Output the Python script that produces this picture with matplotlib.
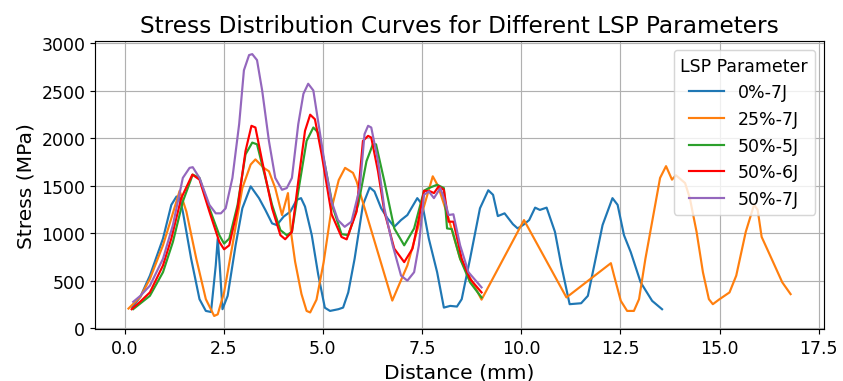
import matplotlib.pyplot as plt

# distancias (mm) e tensoes (MPa)
x_0_7 = [0.2, 0.4, 0.64, 0.97, 1.18, 1.31, 1.39, 1.47, 1.68, 1.89, 2.05, 2.18, 2.30, 2.35, 2.40, 2.47,
         2.60, 2.80, 2.97, 3.18, 3.39, 3.55, 3.72, 3.84, 4.01, 4.18, 4.34, 4.45, 4.55, 4.72, 4.88, 5.05,
         5.18, 5.39, 5.51, 5.64, 5.80, 6.01, 6.18, 6.30, 6.47, 6.63, 6.80, 6.97, 7.13, 7.38, 7.51, 7.67,
         7.88, 8.05, 8.21, 8.38, 8.50, 8.71, 8.96, 9.17, 9.29, 9.41, 9.58, 9.79, 9.91, 10.06, 10.20, 10.35,
         10.47, 10.64, 10.85, 11.01, 11.22, 11.51, 11.68, 11.84, 12.05, 12.30, 12.43, 12.59, 12.76, 13.01,
         13.30, 13.55]
y_0_7 = [220, 330, 553, 943, 1298, 1386, 1376, 1227, 730, 305, 181, 170, 660, 943, 660, 199,
         340, 872, 1262, 1493, 1369, 1245, 1103, 1085, 1174, 1227, 1351, 1369, 1280, 980, 570, 215,
         181, 199, 216, 376, 730, 1298, 1482, 1440, 1262, 1156, 1067, 1138, 1191, 1369, 1298, 943,
         589, 216, 234, 227, 305, 730, 1262, 1452, 1404, 1180, 1209, 1095, 1050, 1090, 1138, 1269,
         1245, 1269, 1014, 660, 252, 262, 340, 660, 1085, 1369, 1298, 979, 801, 482,
         287, 199]

x_25_7 = [0.10, 0.4, 0.64, 0.97, 1.18, 1.39, 1.56, 1.81, 2.05, 2.26, 2.35, 2.51, 2.72, 2.97, 3.18, 3.30,
          3.51, 3.64, 3.80, 3.97, 4.12, 4.20, 4.30, 4.46, 4.59, 4.68, 4.84, 5.02, 5.22, 5.40, 5.56, 5.76,
          5.85, 6.75, 7.13, 7.51, 7.77, 7.90, 8.15, 8.46, 9.0, 10.07, 11.14, 12.26, 12.34, 12.51, 12.67,
          12.84, 12.97, 13.13, 13.30, 13.50, 13.65, 13.80, 13.90, 14.13, 14.25, 14.42, 14.58, 14.73, 14.83,
          15.0, 15.25, 15.42, 15.66, 15.87, 15.96, 16.06, 16.33, 16.58, 16.79]
y_25_7 = [206, 330, 518, 872, 1156, 1447, 1227, 730, 305, 128, 145, 376, 872, 1475, 1723, 1777,
          1688, 1652, 1475, 1191, 1422, 1000, 700, 360, 181, 165, 300, 695, 1262, 1560, 1688, 1635,
          1546, 290, 660, 1227, 1599, 1500, 1180, 730, 300, 1138, 323, 684, 553, 287, 181,
          181, 305, 730, 1121, 1582, 1706, 1564, 1610, 1528, 1369, 1014, 589, 305, 252,
          305, 376, 553, 1014, 1300, 1245, 961, 713, 482, 358]

x_50_5 = [0.22, 0.4, 0.64, 0.97, 1.22, 1.47, 1.72, 1.89, 2.14, 2.39, 2.51, 2.64, 2.85, 3.05, 3.22, 3.34,
          3.51, 3.72, 3.93, 4.09, 4.22, 4.38, 4.59, 4.76, 4.88, 5.05, 5.26, 5.47, 5.64, 5.89, 6.10, 6.26,
          6.34, 6.55, 6.80, 7.05, 7.30, 7.55, 7.67, 7.88, 8.05, 8.13, 8.25, 8.46, 8.71, 9.0]
y_50_5 = [200, 260, 340, 589, 908, 1333, 1617, 1582, 1262, 979, 890, 943, 1298, 1830, 1954, 1936,
          1652, 1298, 1032, 979, 1014, 1440, 1972, 2113, 2060, 1723, 1262, 990, 979, 1298, 1759, 1936,
          1936, 1546, 1050, 872, 1050, 1447, 1475, 1510, 1475, 1050, 1043, 730, 482, 323]

x_50_6 = [0.18, 0.4, 0.64, 0.97, 1.18, 1.43, 1.71, 1.89, 2.14, 2.39, 2.51, 2.64, 2.85, 3.05, 3.20, 3.30,
          3.47, 3.72, 3.93, 4.05, 4.22, 4.38, 4.55, 4.68, 4.80, 4.97, 5.22, 5.47, 5.60, 5.85, 6.01, 6.14,
          6.22, 6.39, 6.55, 6.80, 7.05, 7.26, 7.42, 7.55, 7.71, 7.80, 7.92, 8.05, 8.17, 8.29, 8.50, 8.71, 9.0]
y_50_6 = [199, 280, 376, 660, 943, 1369, 1617, 1564, 1227, 908, 830, 872, 1262, 1865, 2131, 2113,
          1759, 1262, 979, 936, 1014, 1546, 2078, 2248, 2200, 1830, 1200, 960, 935, 1227, 1972, 2025,
          2007, 1652, 1227, 837, 695, 837, 1156, 1447, 1440, 1422, 1493, 1457, 1121, 1121, 730, 518, 376]

x_50_7 = [0.22, 0.4, 0.64, 0.97, 1.22, 1.47, 1.64, 1.72, 1.89, 2.14, 2.30, 2.43, 2.55, 2.72, 2.89, 3.01,
          3.14, 3.22, 3.34, 3.47, 3.64, 3.80, 3.97, 4.09, 4.22, 4.38, 4.51, 4.63, 4.76, 4.88, 5.05, 5.22,
          5.38, 5.55, 5.72, 5.93, 6.05, 6.14, 6.22, 6.39, 6.55, 6.76, 6.97, 7.13, 7.30, 7.42, 7.55, 7.67,
          7.80, 7.96, 8.05, 8.17, 8.29, 8.46, 8.67, 9.0]
y_50_7 = [277, 340, 447, 730, 1085, 1582, 1688, 1695, 1582, 1298, 1209, 1209, 1262, 1582, 2149, 2716,
          2876, 2886, 2823, 2503, 1972, 1582, 1457, 1475, 1582, 2149, 2468, 2574, 2503, 2180, 1723, 1333,
          1138, 1067, 1121, 1475, 2043, 2131, 2113, 1759, 1262, 872, 553, 500, 589, 872, 1404, 1440,
          1369, 1475, 1369, 1191, 1199, 872, 589, 429]

plt.figure(figsize=(8.115, 3.673), dpi=104)
plt.plot(x_0_7, y_0_7, color='#1f77b4', lw=1.5, label='0%-7J')
plt.plot(x_25_7, y_25_7, color='#ff7f0e', lw=1.5, label='25%-7J')
plt.plot(x_50_5, y_50_5, color='#2ca02c', lw=1.5, label='50%-5J')
plt.plot(x_50_6, y_50_6, color='red', lw=1.5, label='50%-6J')
plt.plot(x_50_7, y_50_7, color='#9467bd', lw=1.5, label='50%-7J')
plt.xlabel('Distance (mm)', fontsize=14)
plt.ylabel('Stress (MPa)', fontsize=14)
plt.title('Stress Distribution Curves for Different LSP Parameters', fontsize=16)
plt.xticks(fontsize=12)
plt.yticks(fontsize=12)
plt.grid(True)
plt.legend(title='LSP Parameter', fontsize=12, title_fontsize=12, loc='upper right')
plt.subplots_adjust(left=0.113, right=0.976, top=0.89, bottom=0.136)
plt.savefig('out.png')
